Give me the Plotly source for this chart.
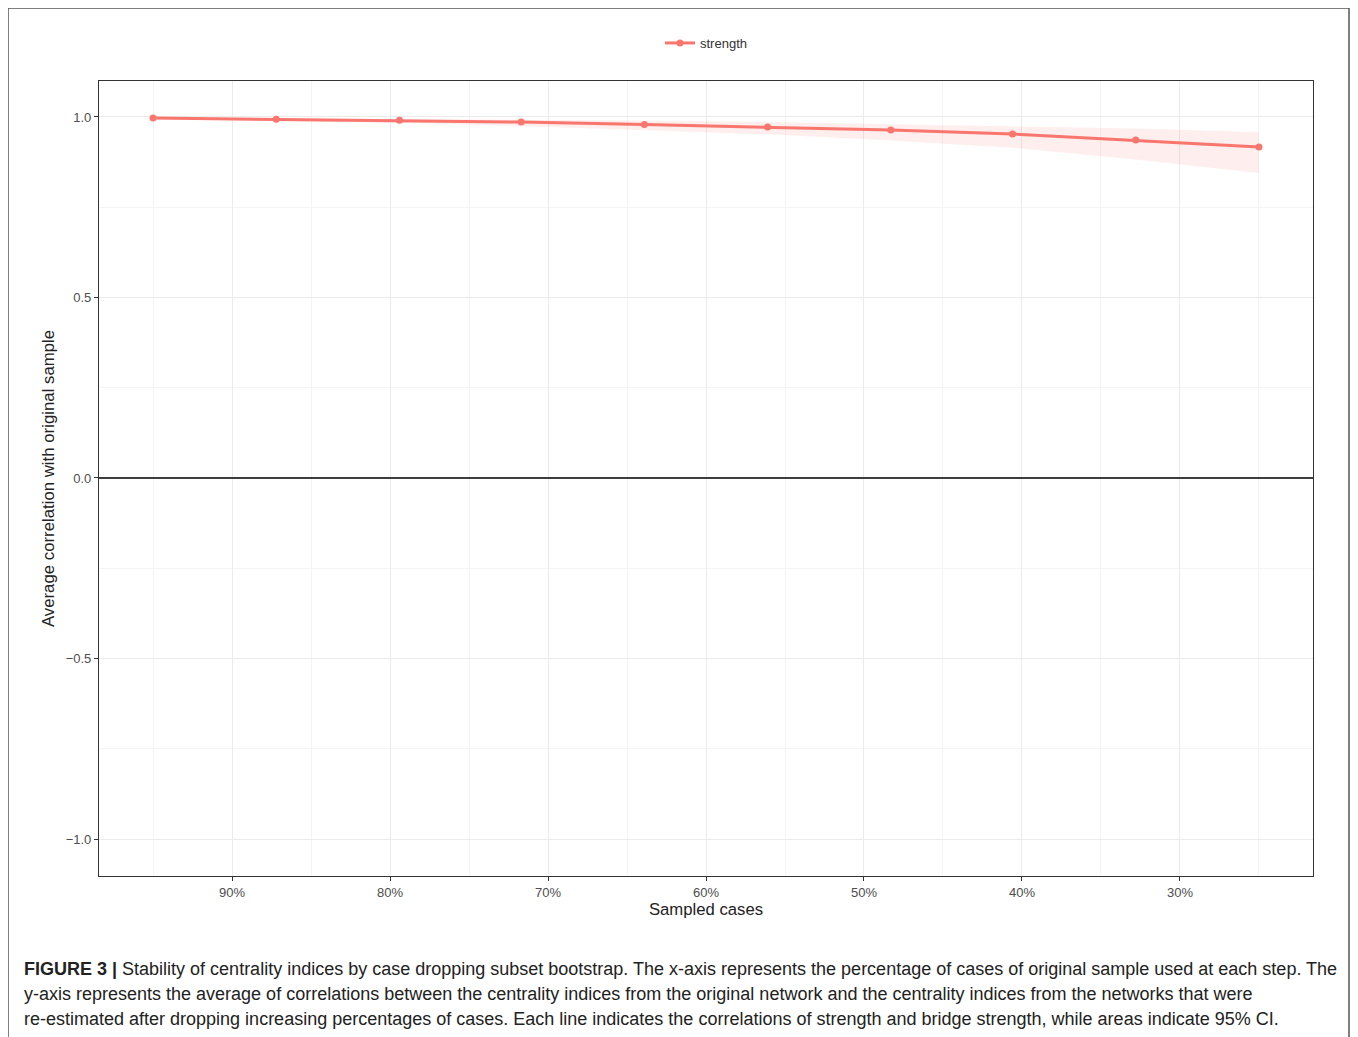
import plotly.graph_objects as go

# Data
sampled_pct = [95.0, 87.2, 79.4, 71.7, 63.9, 56.1, 48.3, 40.6, 32.8, 25.0]
strength_mean = [0.997, 0.994, 0.991, 0.986, 0.979, 0.972, 0.964, 0.953, 0.936, 0.917]
strength_upper = [0.999, 0.997, 0.995, 0.993, 0.990, 0.986, 0.980, 0.975, 0.968, 0.958]
strength_lower = [0.994, 0.990, 0.984, 0.975, 0.964, 0.952, 0.935, 0.915, 0.882, 0.845]
x_tickvals = [90, 80, 70, 60, 50, 40, 30]
x_ticktext = ["90%", "80%", "70%", "60%", "50%", "40%", "30%"]
y_tickvals = [-1.0, -0.5, 0.0, 0.5, 1.0]

caption_lines = [
    "<b>FIGURE 3 |</b> Stability of centrality indices by case dropping subset bootstrap. The x-axis represents the percentage of cases of original sample used at each step. The",
    "y-axis represents the average of correlations between the centrality indices from the original network and the centrality indices from the networks that were",
    "re-estimated after dropping increasing percentages of cases. Each line indicates the correlations of strength and bridge strength, while areas indicate 95% CI.",
]

RED = "#F8766D"
OFF = 8  # page body offset
W, H = 1350, 1029
L, R, T, B = 91, 45, 73, 161
pw, ph = W - L - R, H - T - B

def px_x(x):
    # x in screenshot pixels
    return (x - OFF - L) / pw

def px_y(y):
    return (H - B - (y - OFF)) / ph

fig = go.Figure()
fig.add_trace(go.Scatter(x=sampled_pct, y=strength_upper, mode="lines",
                         line=dict(width=0, color=RED), showlegend=False, hoverinfo="skip"))
fig.add_trace(go.Scatter(x=sampled_pct, y=strength_lower, mode="lines",
                         line=dict(width=0, color=RED), fill="tonexty",
                         fillcolor="rgba(248,118,109,0.12)", showlegend=False, hoverinfo="skip"))
fig.add_trace(go.Scatter(x=sampled_pct, y=strength_mean, mode="lines+markers", name="strength",
                         line=dict(color=RED, width=3), marker=dict(color=RED, size=7)))

fig.add_hline(y=0, line=dict(color="black", width=1.5))

fig.update_layout(
    width=W, height=H,
    margin=dict(l=L, r=R, t=T, b=B),
    paper_bgcolor="white", plot_bgcolor="white",
    font=dict(family="Liberation Sans, Arial, sans-serif", color="#4d4d4d", size=12),
    showlegend=True,
    legend=dict(orientation="h", x=0.5, xanchor="center", y=px_y(43), yanchor="middle",
                font=dict(size=13, color="#333333"), itemwidth=30, bgcolor="rgba(0,0,0,0)"),
    xaxis=dict(range=[98.42, 21.58], tickvals=x_tickvals, ticktext=x_ticktext,
               showgrid=True, gridcolor="#ebebeb", gridwidth=1.2,
               minor=dict(dtick=5, tick0=0, showgrid=True, gridcolor="#f4f4f4", gridwidth=1),
               ticks="outside", ticklen=4, tickcolor="#333333",
               showline=True, linecolor="#333333", linewidth=1.2, mirror=True,
               zeroline=False, tickfont=dict(size=13, color="#4d4d4d"),
               title=dict(text="Sampled cases", font=dict(size=16.7, color="#222222"), standoff=2)),
    yaxis=dict(range=[-1.1025, 1.0997], tickvals=y_tickvals, tickformat=".1f",
               showgrid=True, gridcolor="#ebebeb", gridwidth=1.2,
               minor=dict(dtick=0.25, tick0=0, showgrid=True, gridcolor="#f4f4f4", gridwidth=1),
               ticks="outside", ticklen=4, tickcolor="#333333",
               showline=True, linecolor="#333333", linewidth=1.2, mirror=True,
               zeroline=False, tickfont=dict(size=13, color="#4d4d4d"),
               title=dict(text="Average correlation with original sample",
                          font=dict(size=16.8, color="#222222"), standoff=6)),
)

# outer figure frame
fig.add_shape(type="rect", xref="paper", yref="paper",
              x0=px_x(8), x1=px_x(1349), y0=px_y(1050), y1=px_y(8),
              line=dict(color="#555555", width=1.5), fillcolor="rgba(0,0,0,0)", layer="below")

for line, ypx in zip(caption_lines, [969, 994, 1019]):
    fig.add_annotation(text=line, xref="paper", yref="paper", x=px_x(22), y=px_y(ypx),
                       xanchor="left", yanchor="middle", showarrow=False, align="left",
                       font=dict(family="Liberation Sans, Arial, sans-serif", size=18, color="#222222"))

fig.write_html("out.html")
